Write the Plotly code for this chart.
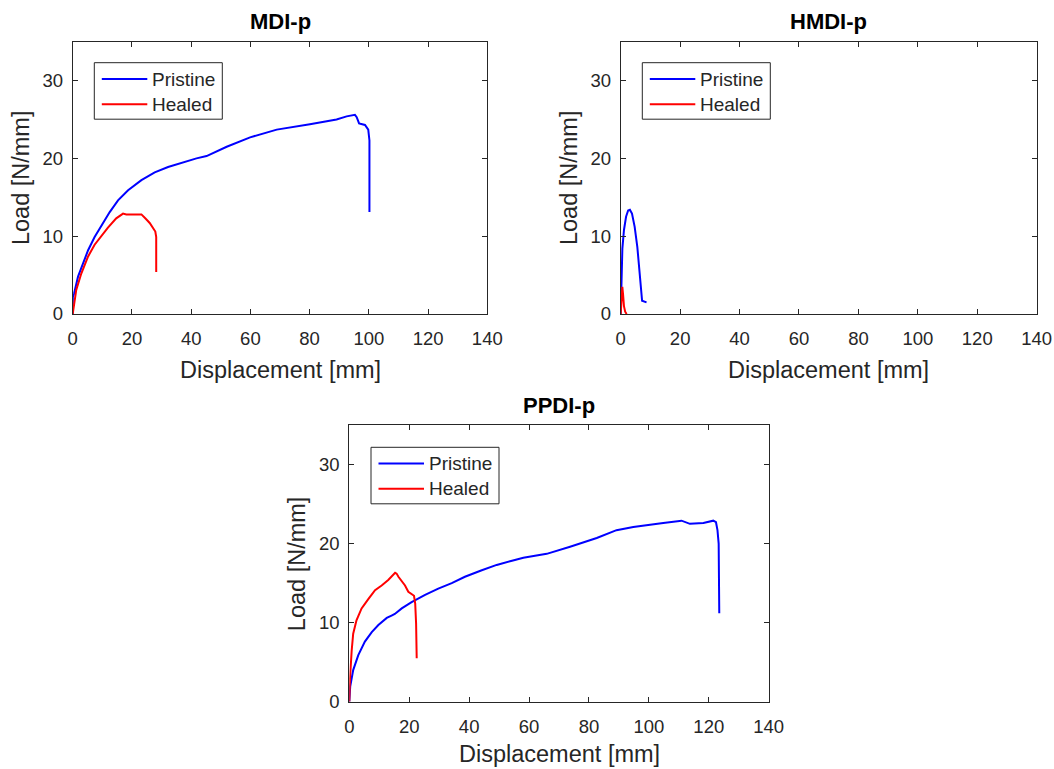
import plotly.graph_objects as go

# ---- data: load-displacement curves (Displacement [mm], Load [N/mm]) ----
mdi_pristine_x = [0, 0.05, 0.45, 1.8, 3.5, 5.2, 7.4, 9.7, 12.5, 15.3, 18.7, 23.2, 27.7, 32.2,
                  37.8, 41.8, 45.2, 52, 59.9, 68.9, 80.1, 89.1, 92.5, 95.3, 95.9, 96.7, 98.7,
                  99.8, 100.2, 100.2]
mdi_pristine_y = [0, 2.2, 2.6, 4.8, 6.5, 8.2, 9.9, 11.4, 13.1, 14.6, 15.9, 17.2, 18.2, 18.9,
                  19.6, 20.0, 20.3, 21.5, 22.7, 23.7, 24.4, 25.0, 25.4, 25.6, 25.3, 24.5, 24.3,
                  23.7, 22.3, 13.1]
mdi_healed_x = [0, 0.45, 1.2, 2.9, 5.2, 7.4, 9.7, 11.9, 14.7, 17.0, 18.1, 20.4, 23.2, 24.5,
                26.0, 27.9, 28.2, 28.2]
mdi_healed_y = [0, 1.4, 3.1, 5.2, 7.4, 8.9, 10.1, 11.1, 12.3, 12.9, 12.8, 12.8, 12.8, 12.3,
                11.7, 10.6, 9.9, 5.4]

hmdi_pristine_x = [0, 0.3, 0.56, 1.1, 1.8, 2.5, 3.1, 3.8, 4.7, 5.6, 6.3, 6.7, 7.2, 8.7]
hmdi_pristine_y = [0, 6.5, 8.4, 10.8, 12.5, 13.3, 13.4, 12.9, 11.2, 8.6, 5.6, 3.1, 1.7, 1.5]
hmdi_healed_x = [0, 0.15, 0.35, 0.55, 0.8, 1.1, 1.5, 2.0]
hmdi_healed_y = [0, 1.5, 3.0, 3.5, 2.5, 1.0, 0.3, 0]

ppdi_pristine_x = [0, 0.3, 1.3, 3.0, 5.2, 7.5, 9.7, 12.5, 14.1, 15.2, 17.5, 20.8, 25.3, 29.7,
                   34.2, 38.6, 44, 49.2, 54, 58.1, 62, 65.9, 73.7, 82.6, 89.2, 94.8, 104.8,
                   110.9, 113.7, 118.2, 121.5, 122.4, 122.9, 123.3, 123.5]
ppdi_pristine_y = [0, 1.9, 4.0, 5.9, 7.6, 8.8, 9.7, 10.6, 10.9, 11.1, 11.8, 12.6, 13.5, 14.3,
                   15.0, 15.8, 16.6, 17.3, 17.8, 18.2, 18.45, 18.7, 19.6, 20.7, 21.7, 22.1,
                   22.6, 22.9, 22.5, 22.6, 22.9, 22.7, 21.7, 20.0, 11.2]
ppdi_healed_x = [0, 0.2, 0.8, 1.3, 2.4, 4.1, 6.4, 8.6, 10.8, 13.0, 15.3, 15.8, 16.4, 17.5,
                 18.6, 19.7, 20.6, 21.6, 22.0, 22.3, 22.5]
ppdi_healed_y = [0, 2.7, 6.5, 8.6, 10.3, 11.8, 13.0, 14.1, 14.7, 15.4, 16.3, 16.2, 15.8, 15.3,
                 14.7, 13.9, 13.7, 13.4, 12.4, 9.9, 5.5]

panel_titles = ["MDI-p", "HMDI-p", "PPDI-p"]
series_names = ["Pristine", "Healed"]
series_colors = ["#0000ff", "#ff0000"]
x_ticks = [0, 20, 40, 60, 80, 100, 120, 140]
y_ticks = [0, 10, 20, 30]
x_label = "Displacement [mm]"
y_label = "Load [N/mm]"

# ---- layout geometry (pixels) ----
W, H = 1054, 769
FONT = "Liberation Sans, Arial, Helvetica, sans-serif"
INK = "#262626"


def px_x(x):
    return x / W


def px_y(y):
    return 1 - y / H


# axes boxes: left, right, top, bottom in pixels
boxes = [
    (72.7, 487.3, 41.7, 314.0),
    (620.7, 1036.7, 41.7, 314.0),
    (349.3, 768.7, 425.0, 701.7),
]
# distance from the bottom axis line to the x-axis label
xlabel_gap = [56, 56, 52.5]
# legend box top-left corners in pixels
legend_pos = [(94.3, 62.7), (642.3, 62.7), (371.0, 447.3)]
LEG_W, LEG_H = 128.0, 56.5
LEG_ROWS = [16.3, 41.5]

panels = [
    (mdi_pristine_x, mdi_pristine_y, mdi_healed_x, mdi_healed_y),
    (hmdi_pristine_x, hmdi_pristine_y, hmdi_healed_x, hmdi_healed_y),
    (ppdi_pristine_x, ppdi_pristine_y, ppdi_healed_x, ppdi_healed_y),
]

fig = go.Figure()
layout = dict(
    template="none",
    width=W, height=H, autosize=False,
    margin=dict(l=0, r=0, t=0, b=0, pad=0),
    paper_bgcolor="white", plot_bgcolor="white",
    font=dict(family=FONT, color=INK),
    showlegend=False,
)
annotations = []
shapes = []

for i, ((l, r, t, b), (px, py, hx, hy)) in enumerate(zip(boxes, panels)):
    n = "" if i == 0 else str(i + 1)
    for name, color, xs, ys in ((series_names[0], series_colors[0], px, py),
                                (series_names[1], series_colors[1], hx, hy)):
        fig.add_trace(go.Scatter(x=xs, y=ys, mode="lines", name=name,
                                 line=dict(color=color, width=2),
                                 xaxis=f"x{n}", yaxis=f"y{n}"))
    axis_common = dict(
        showline=True, linecolor=INK, linewidth=1, mirror="ticks",
        ticks="inside", ticklen=5, tickwidth=1, tickcolor=INK,
        showgrid=False, zeroline=False, automargin=False,
        tickfont=dict(family=FONT, size=18.5, color=INK),
    )
    layout[f"xaxis{n}"] = dict(axis_common, domain=[px_x(l), px_x(r)], range=[0, 140],
                               tickvals=x_ticks, anchor=f"y{n}", ticklabelstandoff=8)
    layout[f"yaxis{n}"] = dict(axis_common, domain=[px_y(b), px_y(t)], range=[0, 35],
                               tickvals=y_ticks, anchor=f"x{n}", ticklabelstandoff=5)

    # legend: framed box with line samples and labels
    lx, ly = legend_pos[i]
    shapes.append(dict(type="rect", xref="paper", yref="paper",
                       x0=px_x(lx), x1=px_x(lx + LEG_W), y0=px_y(ly), y1=px_y(ly + LEG_H),
                       line=dict(color=INK, width=1), fillcolor="white", layer="above"))
    for k, (name, color) in enumerate(zip(series_names, series_colors)):
        yy = ly + LEG_ROWS[k]
        shapes.append(dict(type="line", xref="paper", yref="paper",
                           x0=px_x(lx + 7.5), x1=px_x(lx + 53), y0=px_y(yy), y1=px_y(yy),
                           line=dict(color=color, width=2), layer="above"))
        annotations.append(dict(text=name, x=px_x(lx + 55.5), y=px_y(yy),
                                xref="paper", yref="paper", xanchor="left", yanchor="middle",
                                showarrow=False, font=dict(family=FONT, size=19, color=INK)))

    cx = (l + r) / 2
    cy = (t + b) / 2
    annotations.append(dict(text=f"<b>{panel_titles[i]}</b>", x=px_x(cx), y=px_y(t - 20),
                            xref="paper", yref="paper", xanchor="center", yanchor="middle",
                            showarrow=False, font=dict(family=FONT, size=22, color="black")))
    annotations.append(dict(text=x_label, x=px_x(cx), y=px_y(b + xlabel_gap[i]),
                            xref="paper", yref="paper", xanchor="center", yanchor="middle",
                            showarrow=False, font=dict(family=FONT, size=23.5, color=INK)))
    annotations.append(dict(text=y_label, x=px_x(l - 51.5), y=px_y(cy),
                            xref="paper", yref="paper", xanchor="center", yanchor="middle",
                            textangle=-90, showarrow=False,
                            font=dict(family=FONT, size=23.5, color=INK)))

layout["annotations"] = annotations
layout["shapes"] = shapes
fig.update_layout(**layout)
fig.write_html("out.html")
